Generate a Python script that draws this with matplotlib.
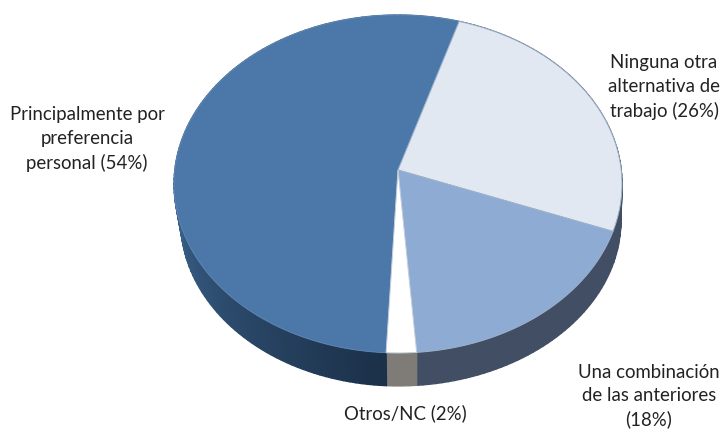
import matplotlib
matplotlib.use("Agg")
import matplotlib.pyplot as plt
import matplotlib.colors as mcolors
import numpy as np

plt.rcParams["font.family"] = ["Lato", "DejaVu Sans"]

labels = [
    "Ninguna otra\nalternativa de\ntrabajo (26%)",
    "Una combinación\nde las anteriores\n(18%)",
    "Otros/NC (2%)",
    "Principalmente por\npreferencia\npersonal (54%)",
]
values = [26, 18, 2, 54]
top_colors = ["#e1e8f1", "#8eabd3", "#ffffff", "#4b78a9"]
edge_colors = ["#9fb2ca", "#9fb2ca", "#c3cedc", "#5f86b0"]
side_start = ["#414e64", "#414e64", "#7f7c78", "#1b3049"]
side_end = ["#414e64", "#414e64", "#7f7c78", "#3d668f"]

# label centre in pixels
label_pos = [(664, 87), (649, 396), (405, 413), (87, 139)]

START_DEG = 17.2
CX, CY = 398, 170
A, B, K = 223.2, 167.8, 0.0828


def project(phi):
    # clockwise angle from top on the disc -> image pixels, with a bit of perspective
    u, v = np.sin(phi), np.cos(phi)
    w = 1 + K * v
    return CX + A * u / w, CY - B * v / w


def lower_rim(x, y):
    # bottom rim of the wall sits lower; the left side pulls in more than the right
    dx = x - CX
    return CX + np.where(dx < 0, dx * 0.97, dx * 0.995), 221 + (y - 184) * 0.976


fig = plt.figure(figsize=(7.22, 4.30), dpi=100)
ax = fig.add_axes([0, 0, 1, 1])
ax.set_xlim(0, 722)
ax.set_ylim(430, 0)
ax.axis("off")

edges = START_DEG + np.concatenate([[0], np.cumsum(values)]) * 3.6

# wall first, the top covers whatever sits at the back
for i in range(len(values)):
    a0, a1 = np.radians(edges[i]), np.radians(edges[i + 1])
    steps = max(2, int((edges[i + 1] - edges[i]) / 1.5))
    t = np.linspace(a0, a1, steps + 1)
    c0 = np.array(mcolors.to_rgb(side_start[i]))
    c1 = np.array(mcolors.to_rgb(side_end[i]))
    for j in range(steps):
        x, y = project(t[j:j + 2])
        xl, yl = lower_rim(x, y)
        f = min(1.0, j / (steps * 0.45))
        col = c0 + (c1 - c0) * f
        ax.fill([x[0], x[1], xl[1], xl[0]], [y[0], y[1], yl[1], yl[0]],
                facecolor=col, edgecolor=col, lw=1.0, zorder=1)

# top face
for i in range(len(values)):
    t = np.radians(np.linspace(edges[i], edges[i + 1], 200))
    x, y = project(t)
    ax.fill(np.r_[CX, x], np.r_[CY, y], facecolor=top_colors[i],
            edgecolor=edge_colors[i], lw=0.7, zorder=2 + (i != 3))

for text, (px, py) in zip(labels, label_pos):
    ax.text(px, py, text, ha="center", va="center", fontsize=13.4, color="#222222",
            linespacing=1.45, zorder=5)

fig.savefig("out.png", dpi=100)
